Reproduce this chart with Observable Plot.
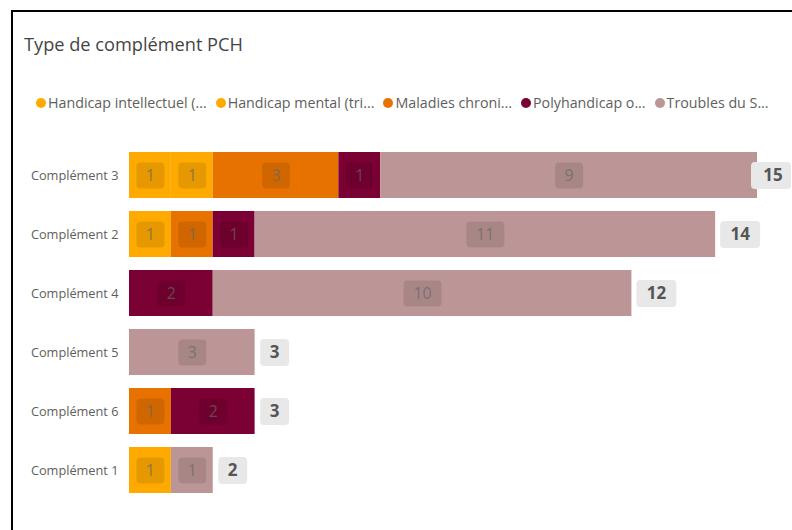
<!DOCTYPE html>
<html>
<head>
<meta charset="utf-8">
<script src="https://cdn.jsdelivr.net/npm/d3@7"></script>
<script src="https://cdn.jsdelivr.net/npm/@observablehq/plot@0.6"></script>
<style>
  html, body { margin: 0; padding: 0; background: #fff; width: 792px; height: 530px; overflow: hidden; font-family: "Open Sans", "Noto Sans", sans-serif; }
  #frame { position: absolute; left: 11px; top: 10px; width: 800px; height: 540px; border: 2px solid #000; box-sizing: border-box; }
  #title { position: absolute; left: 24px; top: 32px; font-size: 18.2px; color: #444; line-height: 24px; white-space: nowrap; }
  #legend { position: absolute; left: 36px; top: 93px; display: flex; align-items: center; font-size: 14.25px; color: #605E5C; white-space: nowrap; line-height: 20px; }
  .item { display: flex; align-items: center; margin-right: 9px; }
  .dot { width: 10px; height: 10px; border-radius: 50%; margin-right: 2px; }
  #chart { position: absolute; left: 0; top: 130px; }
</style>
</head>
<body>
<div id="frame"></div>
<div id="title">Type de complément PCH</div>
<div id="legend"></div>
<div id="chart"></div>
<script>
// ---- data ----
const categories = ["Complément 3", "Complément 2", "Complément 4", "Complément 5", "Complément 6", "Complément 1"];
const series = ["Handicap intellectuel (...", "Handicap mental (tri...", "Maladies chroni...", "Polyhandicap o...", "Troubles du S..."];
const colors = ["#FFAA00", "#FFAA00", "#E87200", "#7B0033", "#BC9696"];
const intellectuel = [1, 1, 0, 0, 0, 1];
const mental       = [1, 0, 0, 0, 0, 0];
const maladies     = [3, 1, 0, 0, 1, 0];
const polyhandicap = [1, 1, 2, 0, 2, 0];
const troubles     = [9, 11, 10, 3, 0, 1];
const values = [intellectuel, mental, maladies, polyhandicap, troubles];

// ---- tables built from the arrays ----
const rows = [];
series.forEach((s, si) => categories.forEach((c, ci) => {
  const v = values[si][ci];
  if (v > 0) rows.push({cat: c, series: s, value: v});
}));
const totals = categories.map(c => ({cat: c, total: d3.sum(rows.filter(r => r.cat === c), r => r.value)}));
const maxTotal = d3.max(totals, d => d.total);

// ---- legend ----
const legend = document.getElementById("legend");
series.forEach((s, i) => {
  const it = document.createElement("div"); it.className = "item";
  const dot = document.createElement("div"); dot.className = "dot"; dot.style.background = colors[i];
  const lab = document.createElement("span"); lab.textContent = s;
  it.appendChild(dot); it.appendChild(lab); legend.appendChild(it);
});

// rounded rectangle symbol centred on the point
function box(w, h, r) {
  return {
    draw(c) {
      const x0 = -w / 2, y0 = -h / 2, x1 = w / 2, y1 = h / 2;
      c.moveTo(x0 + r, y0); c.lineTo(x1 - r, y0); c.arcTo(x1, y0, x1, y0 + r, r);
      c.lineTo(x1, y1 - r); c.arcTo(x1, y1, x1 - r, y1, r);
      c.lineTo(x0 + r, y1); c.arcTo(x0, y1, x0, y1 - r, r);
      c.lineTo(x0, y0 + r); c.arcTo(x0, y0, x0 + r, y0, r); c.closePath();
    }
  };
}
const segBox1 = box(28, 26, 4), segBox2 = box(38, 26, 4);
const totBox1 = box(29, 27, 4), totBox2 = box(40, 27, 4);

const stk = {x: "value", y: "cat", z: "series"};
const single = d => d.total < 10;
const double = d => d.total >= 10 && d.total < maxTotal;
const longest = d => d.total === maxTotal;

const chart = Plot.plot({
  width: 792,
  height: 380,
  marginLeft: 129,
  marginRight: 35,
  marginTop: 8,
  marginBottom: 4,
  style: {fontFamily: "'Open Sans', 'Noto Sans', sans-serif", color: "#605E5C", background: "transparent"},
  x: {domain: [0, maxTotal], axis: null},
  y: {domain: categories, padding: 0.224, label: null},
  color: {domain: series, range: colors},
  marks: [
    Plot.axisY({tickSize: 0, tickPadding: 11, fontSize: 12.75, fill: "#605E5C"}),
    Plot.barX(rows, Plot.stackX({...stk, fill: "series"})),
    Plot.dot(rows, Plot.filter(d => d.value < 10, Plot.stackX({...stk, symbol: segBox1, fill: "#000", fillOpacity: 0.1, stroke: null}))),
    Plot.dot(rows, Plot.filter(d => d.value >= 10, Plot.stackX({...stk, symbol: segBox2, fill: "#000", fillOpacity: 0.1, stroke: null}))),
    Plot.text(rows, Plot.stackX({...stk, text: d => String(d.value), fill: "#666", fillOpacity: 0.7, fontSize: 16})),
    // total labels
    Plot.dot(totals, {filter: single, x: "total", y: "cat", dx: 19.5, symbol: totBox1, fill: "#E8E8E8", stroke: null}),
    Plot.dot(totals, {filter: double, x: "total", y: "cat", dx: 24.5, symbol: totBox2, fill: "#E8E8E8", stroke: null}),
    Plot.dot(totals, {filter: longest, x: "total", y: "cat", dx: 13.5, symbol: totBox2, fill: "#E8E8E8", stroke: null}),
    Plot.text(totals, {filter: single, x: "total", y: "cat", dx: 19.5, text: d => String(d.total), fill: "#555", fontSize: 17, fontWeight: "bold"}),
    Plot.text(totals, {filter: double, x: "total", y: "cat", dx: 24.5, text: d => String(d.total), fill: "#555", fontSize: 17, fontWeight: "bold"}),
    Plot.text(totals, {filter: longest, x: "total", y: "cat", dx: 15.5, text: d => String(d.total), fill: "#555", fontSize: 17, fontWeight: "bold"})
  ]
});
document.getElementById("chart").appendChild(chart);
</script>
</body>
</html>
